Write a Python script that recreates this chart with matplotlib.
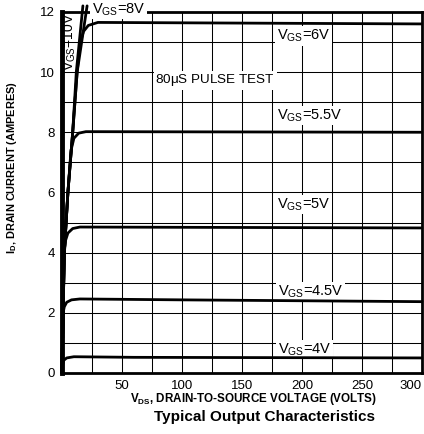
#import libraries
import numpy as np
import matplotlib.pyplot as plt

plt.rcParams['font.family'] = ['Liberation Sans', 'DejaVu Sans']
plt.rcParams['mathtext.default'] = 'regular'

#curve data (Vds in volts, Id in amperes)
vds_4v = [0, 0.5, 1.5, 4, 10, 60, 300]
id_4v = [0, 0.25, 0.42, 0.5, 0.54, 0.52, 0.5]

vds_45v = [0, 0.5, 1, 2, 4, 8, 15, 100, 300]
id_45v = [0, 1.0, 2.0, 2.2, 2.35, 2.43, 2.46, 2.43, 2.37]

vds_5v = [0, 1, 2, 3, 5, 9, 15, 300]
id_5v = [0, 2.2, 4.0, 4.4, 4.65, 4.8, 4.85, 4.82]

vds_55v = [0, 1, 2, 5, 7.6, 10, 14, 20, 300]
id_55v = [0, 2.0, 4.0, 6.0, 7.4, 7.8, 7.97, 8.02, 8.0]

vds_6v = [0, 1, 2, 5, 9, 12.7, 15, 18, 22, 30, 300]
id_6v = [0, 2.0, 4.0, 6.0, 8.0, 10.0, 10.95, 11.35, 11.55, 11.65, 11.6]

vds_8v = [0, 1, 2, 5, 9, 12.7, 21]
id_8v = [0, 2.0, 4.0, 6.0, 8.0, 10.0, 12.2]

vds_10v = [0, 1, 2, 5, 9, 12.0, 17.5]
id_10v = [0, 2.0, 4.0, 6.0, 8.0, 10.0, 12.2]

x_ticks = [50, 100, 150, 200, 250, 300]
y_ticks = [0, 2, 4, 6, 8, 10, 12]

#create figure
fig = plt.figure(figsize=(4.24, 4.34), dpi=100)
ax = fig.add_axes([0.146, 0.1406, 0.849, 0.832])
ax.set_xlim(0, 300)
ax.set_ylim(0, 12)

#grid every 25 V and every 1 A
for gx in np.arange(25, 300, 25):
    ax.axvline(gx, color='black', lw=0.75, zorder=1)
for gy in np.arange(1, 12, 1):
    ax.axhline(gy, color='black', lw=0.75, zorder=1)

#draw curves
curves = [(vds_4v, id_4v), (vds_45v, id_45v), (vds_5v, id_5v), (vds_55v, id_55v),
          (vds_6v, id_6v), (vds_8v, id_8v), (vds_10v, id_10v)]
for xs, ys in curves:
    ax.plot(xs, ys, color='black', lw=2.0, solid_joinstyle='round',
            solid_capstyle='round', zorder=3, clip_on=False)

#labels on the curves
box = dict(fc='white', ec='none', pad=1)
ax.text(179, 11.2, r'V$_{GS}$=6V', fontsize=10.5, va='center', bbox=box, zorder=2)
ax.text(179, 8.55, r'V$_{GS}$=5.5V', fontsize=10.5, va='center', bbox=box, zorder=2)
ax.text(179, 5.6, r'V$_{GS}$=5V', fontsize=10.5, va='center', bbox=box, zorder=2)
ax.text(180, 2.7, r'V$_{GS}$=4.5V', fontsize=10.5, va='center', bbox=box, zorder=2)
ax.text(180, 0.77, r'V$_{GS}$=4V', fontsize=10.5, va='center', bbox=box, zorder=2)
ax.text(78, 9.73, r'80$\mu$S PULSE TEST', fontsize=9.7, va='center', bbox=box, zorder=2)
ax.text(25, 12.08, r'V$_{GS}$=8V', fontsize=10.5, va='center', bbox=box, zorder=4,
        clip_on=False)
ax.text(6.6, 11.0, r'V$_{GS}$=10V', fontsize=10, va='center', ha='center',
        rotation=90, zorder=4)

#ticks and spines
ax.set_xticks(x_ticks)
ax.set_yticks(y_ticks)
ax.tick_params(length=0, labelsize=9.5, pad=5)
ax.get_xticklabels()[-1].set_horizontalalignment('right')
ax.get_xticklabels()[-1].set_x(300)
for side in ['top', 'right', 'bottom']:
    ax.spines[side].set_linewidth(2.0)
ax.spines['left'].set_linewidth(3.5)

ax.set_xlabel(r'V$_{DS}$, DRAIN-TO-SOURCE VOLTAGE (VOLTS)', fontsize=8.4,
              fontweight='bold')
ax.xaxis.set_label_coords(0.533, -0.05)
ax.set_ylabel(r'I$_{D}$, DRAIN CURRENT (AMPERES)', fontsize=7.9, fontweight='bold')
ax.yaxis.set_label_coords(-0.12, 0.57)

fig.text(0.625, 0.039, 'Typical Output Characteristics', fontsize=11,
         fontweight='bold', ha='center', va='center')

plt.savefig('out.png', dpi=100)
